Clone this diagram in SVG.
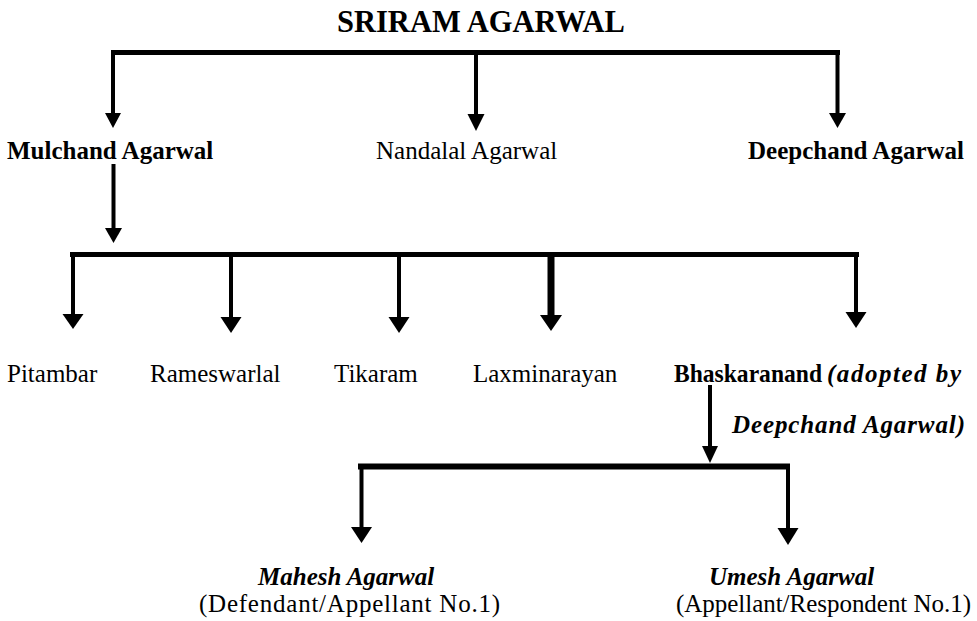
<svg xmlns="http://www.w3.org/2000/svg" width="977" height="621" viewBox="0 0 977 621">
  <style>
    text { font-family: "Liberation Serif", "Times New Roman", serif; font-size: 25px; fill: #000; }
    .b { font-weight: bold; }
    .bi { font-weight: bold; font-style: italic; }
    .title { font-weight: bold; font-size: 30.5px; }
    .bar { stroke: #000; stroke-width: 5; fill: none; }
    .bar3 { stroke: #000; stroke-width: 6; fill: none; }
    .ln { stroke: #000; stroke-width: 4; fill: none; }
    .lnw { stroke: #000; stroke-width: 7; fill: none; }
    .hd { fill: #000; stroke: none; }
  </style>
  <rect width="977" height="621" fill="#fff"/>

  <g id="connectors">
    <!-- level 1 -->
    <path class="bar" d="M111,52.5 H840"/>
    <path class="ln" d="M113,52 V114"/>
    <polygon class="hd" points="105,113 121,113 113,128"/>
    <path class="ln" d="M476,52 V115"/>
    <polygon class="hd" points="467.5,114 484.5,114 476,131"/>
    <path class="ln" d="M837.5,52 V114"/>
    <polygon class="hd" points="829,113 846,113 837.5,128"/>
    <!-- Mulchand down -->
    <path class="ln" d="M113.5,164 V229"/>
    <polygon class="hd" points="105,228 122,228 113.5,243"/>
    <!-- level 2 -->
    <path class="bar" d="M70,254.5 H859"/>
    <path class="ln" d="M73,254 V315"/>
    <polygon class="hd" points="62.5,314 83.5,314 73,329"/>
    <path class="ln" d="M231,254 V318"/>
    <polygon class="hd" points="220.5,317 241.5,317 231,333"/>
    <path class="ln" d="M399,254 V318"/>
    <polygon class="hd" points="388.5,317 409.5,317 399,333"/>
    <path class="lnw" d="M551,254 V316"/>
    <polygon class="hd" points="540,315 562,315 551,331"/>
    <path class="ln" d="M856,254 V313"/>
    <polygon class="hd" points="845.5,312 866.5,312 856,328"/>
    <!-- Bhaskaranand down -->
    <path class="ln" d="M710,385 V447"/>
    <polygon class="hd" points="702,446 718,446 710,463"/>
    <!-- level 3 -->
    <path class="bar3" d="M358,466.5 H790"/>
    <path class="ln" d="M361.5,466 V528"/>
    <polygon class="hd" points="351,527 372,527 361.5,543"/>
    <path class="ln" d="M788,466 V529"/>
    <polygon class="hd" points="777.5,528 798.5,528 788,545"/>
  </g>

  <g id="sriram"><text class="title" x="337" y="32">SRIRAM AGARWAL</text></g>
  <g id="mulchand"><text class="b" x="7" y="159">Mulchand Agarwal</text></g>
  <g id="nandalal"><text x="376" y="159">Nandalal Agarwal</text></g>
  <g id="deepchand"><text class="b" x="748" y="159">Deepchand Agarwal</text></g>

  <g id="pitambar"><text x="7" y="382">Pitambar</text></g>
  <g id="rameswarlal"><text x="150" y="382">Rameswarlal</text></g>
  <g id="tikaram"><text x="334" y="382">Tikaram</text></g>
  <g id="laxminarayan"><text x="473" y="382">Laxminarayan</text></g>
  <g id="bhaskaranand">
    <text class="b" x="674" y="382" textLength="148" lengthAdjust="spacingAndGlyphs">Bhaskaranand</text>
    <text class="bi" x="827" y="382" textLength="134" lengthAdjust="spacing">(adopted by</text>
    <text class="bi" x="732" y="433" textLength="233" lengthAdjust="spacing">Deepchand Agarwal)</text>
  </g>

  <g id="mahesh">
    <text class="bi" x="258" y="585">Mahesh Agarwal</text>
    <text x="199" y="612" textLength="301" lengthAdjust="spacing">(Defendant/Appellant No.1)</text>
  </g>
  <g id="umesh">
    <text class="bi" x="709" y="585">Umesh Agarwal</text>
    <text x="676" y="612" textLength="295" lengthAdjust="spacing">(Appellant/Respondent No.1)</text>
  </g>
</svg>
